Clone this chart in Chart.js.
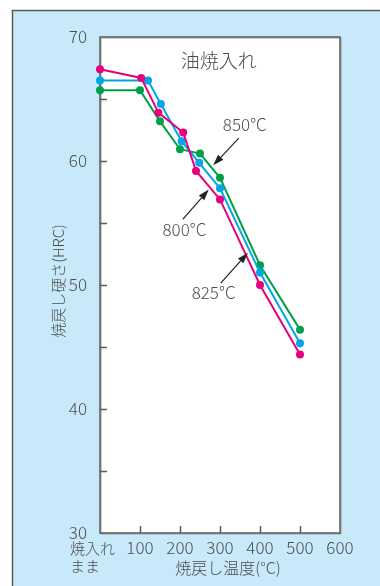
<!DOCTYPE html>
<html>
<head>
<meta charset="utf-8">
<script src="https://cdn.jsdelivr.net/npm/chart.js@4.4.0/dist/chart.umd.min.js"></script>
<style>
  html, body { margin: 0; padding: 0; background: #fff; }
</style>
</head>
<body>
<canvas id="hardness" width="380" height="586"></canvas>
<script>
// 焼戻し温度 (°C), 0 = 焼入れまま
const temps_800 = [0, 103, 146, 208, 240, 300, 400, 500];
const hrc_800 = [67.4, 66.7, 63.9, 62.3, 59.2, 56.9, 50.0, 44.4];

const temps_825 = [0, 120, 152, 204, 248, 300, 400, 500];
const hrc_825 = [66.5, 66.5, 64.6, 61.6, 59.85, 57.8, 51.0, 45.3];

const temps_850 = [0, 100, 150, 200, 250, 300, 400, 500];
const hrc_850 = [65.7, 65.7, 63.2, 60.95, 60.6, 58.65, 51.6, 46.4];

const x_ticks = [0, 100, 200, 300, 400, 500, 600];
const y_ticks = [30, 35, 40, 45, 50, 55, 60, 65, 70];

// labels with arrows, in data units: [text, label x, label y, from x, from y, tip x, tip y]
const callouts = [
  ['850°C', 362, 62.9, 347, 61.85, 283, 59.65],
  ['800°C', 211, 54.45, 207, 55.3, 272, 57.7],
  ['825°C', 284, 49.4, 302, 50.15, 370, 52.6],
];

const pink = '#e5007f';
const blue = '#00a6e8';
const green = '#00a04b';
const text_color = '#4d4d4d';
const font = '"Noto Sans CJK JP", "Noto Sans", sans-serif';

function to_points(xs, ys) {
  const pts = [];
  for (let i = 0; i < xs.length; i++) {
    pts.push({x: xs[i], y: ys[i]});
  }
  return pts;
}

function series(label, xs, ys, color, order) {
  return {
    label: label,
    data: to_points(xs, ys),
    borderColor: color,
    backgroundColor: color,
    borderWidth: 2,
    pointRadius: 4,
    pointBorderWidth: 0,
    clip: false,
    order: order,
  };
}

function arrow(ctx, x1, y1, x2, y2) {
  const ang = Math.atan2(y2 - y1, x2 - x1);
  const len = 11, half = 3.6;
  const bx = x2 - Math.cos(ang) * len, by = y2 - Math.sin(ang) * len;
  ctx.beginPath();
  ctx.moveTo(x1, y1);
  ctx.lineTo(bx, by);
  ctx.stroke();
  ctx.beginPath();
  ctx.moveTo(x2, y2);
  ctx.lineTo(bx + Math.sin(ang) * half, by - Math.cos(ang) * half);
  ctx.lineTo(bx - Math.sin(ang) * half, by + Math.cos(ang) * half);
  ctx.closePath();
  ctx.fill();
}

const decor = {
  id: 'decor',
  beforeDraw(chart) {
    const ctx = chart.ctx, a = chart.chartArea;
    ctx.save();
    ctx.fillStyle = '#fff';
    ctx.fillRect(0, 0, chart.width, chart.height);
    ctx.fillStyle = '#c7e9f9';
    ctx.fillRect(12, 10, chart.width - 12, chart.height - 10);
    ctx.strokeStyle = '#5a5a5a';
    ctx.lineWidth = 1.5;
    ctx.beginPath();
    ctx.moveTo(12.5, chart.height);
    ctx.lineTo(12.5, 10.5);
    ctx.lineTo(chart.width, 10.5);
    ctx.stroke();
    ctx.fillStyle = '#fff';
    ctx.fillRect(a.left, a.top, a.width, a.height);
    // plot frame with a light shadow
    ctx.strokeStyle = '#a0a0a0';
    ctx.lineWidth = 1;
    ctx.strokeRect(a.left + 1, a.top + 1, a.width, a.height);
    ctx.strokeStyle = '#5a5a5a';
    ctx.lineWidth = 1.5;
    ctx.strokeRect(a.left, a.top, a.width, a.height);
    ctx.restore();
  },
  afterDatasetsDraw(chart) {
    const ctx = chart.ctx;
    const xs = chart.scales.x, ys = chart.scales.y;
    ctx.save();
    ctx.font = '300 19px ' + font;
    ctx.fillStyle = text_color;
    ctx.textAlign = 'center';
    ctx.textBaseline = 'middle';
    ctx.fillText('油焼入れ', xs.getPixelForValue(297), ys.getPixelForValue(68.05));

    callouts.forEach(c => {
      ctx.font = '300 17px ' + font;
      ctx.fillStyle = text_color;
      ctx.fillText(c[0], xs.getPixelForValue(c[1]), ys.getPixelForValue(c[2]));
      const x1 = xs.getPixelForValue(c[3]), y1 = ys.getPixelForValue(c[4]);
      const x2 = xs.getPixelForValue(c[5]), y2 = ys.getPixelForValue(c[6]);
      if (c[0] == '825°C') {
        ctx.strokeStyle = '#fff';
        ctx.lineWidth = 4;
        ctx.beginPath();
        ctx.moveTo(x1, y1);
        ctx.lineTo(x2 - 3, y2 + 3);
        ctx.stroke();
      }
      ctx.strokeStyle = '#222';
      ctx.fillStyle = '#222';
      ctx.lineWidth = 1.2;
      arrow(ctx, x1, y1, x2, y2);
    });
    ctx.restore();
  },
  afterDraw(chart) {
    const ctx = chart.ctx, a = chart.chartArea;
    const xs = chart.scales.x, ys = chart.scales.y;
    ctx.save();
    // inner tick marks
    ctx.strokeStyle = '#5a5a5a';
    ctx.lineWidth = 1.5;
    ctx.beginPath();
    y_ticks.slice(1, -1).forEach(v => {
      const py = Math.round(ys.getPixelForValue(v)) + 0.5;
      ctx.moveTo(a.left, py);
      ctx.lineTo(a.left + 7, py);
    });
    x_ticks.slice(1, -1).forEach(v => {
      const px = Math.round(xs.getPixelForValue(v)) + 0.5;
      ctx.moveTo(px, a.bottom);
      ctx.lineTo(px, a.bottom - 7);
    });
    ctx.stroke();

    // axis titles and as-quenched label
    ctx.fillStyle = text_color;
    ctx.font = '300 15px ' + font;
    ctx.textBaseline = 'middle';
    ctx.textAlign = 'left';
    ctx.fillText('焼入れ', 70, 548);
    ctx.fillText('まま', 70, 566);
    ctx.translate(58, 281);
    ctx.rotate(-Math.PI / 2);
    ctx.textAlign = 'center';
    ctx.fillText('焼戻し硬さ(HRC)', 0, 0);
    ctx.setTransform(1, 0, 0, 1, 0, 0);
    ctx.font = '300 16px ' + font;
    ctx.fillText('焼戻し温度(°C)', 228, 568);
    ctx.restore();
  }
};

const hardness_chart = document.getElementById('hardness');

new Chart(hardness_chart, {
  type: 'line',
  data: {
    datasets: [
      series('800°C', temps_800, hrc_800, pink, 1),
      series('825°C', temps_825, hrc_825, blue, 2),
      series('850°C', temps_850, hrc_850, green, 3),
    ]
  },
  options: {
    responsive: false,
    animation: false,
    devicePixelRatio: 1,
    layout: {
      padding: {top: 37, right: 40, left: 0, bottom: 0}
    },
    plugins: {
      legend: {display: false},
      tooltip: {enabled: false},
    },
    scales: {
      x: {
        type: 'linear',
        min: 0,
        max: 600,
        afterFit: (s) => { s.height = 53; },
        afterBuildTicks: (s) => { s.ticks = x_ticks.map(v => ({value: v})); },
        grid: {display: false},
        border: {display: false},
        ticks: {
          color: text_color,
          font: {size: 17, family: font, weight: 300},
          padding: -4,
          maxRotation: 0,
          callback: (v) => v === 0 ? '' : v,
        },
      },
      y: {
        min: 30,
        max: 70,
        afterFit: (s) => { s.width = 100; },
        afterBuildTicks: (s) => { s.ticks = y_ticks.map(v => ({value: v})); },
        grid: {display: false},
        border: {display: false},
        ticks: {
          color: text_color,
          font: {size: 17, family: font, weight: 300},
          padding: 5,
          callback: (v) => v % 10 === 0 ? v : '',
        },
      },
    },
  },
  plugins: [decor],
});
</script>
</body>
</html>
